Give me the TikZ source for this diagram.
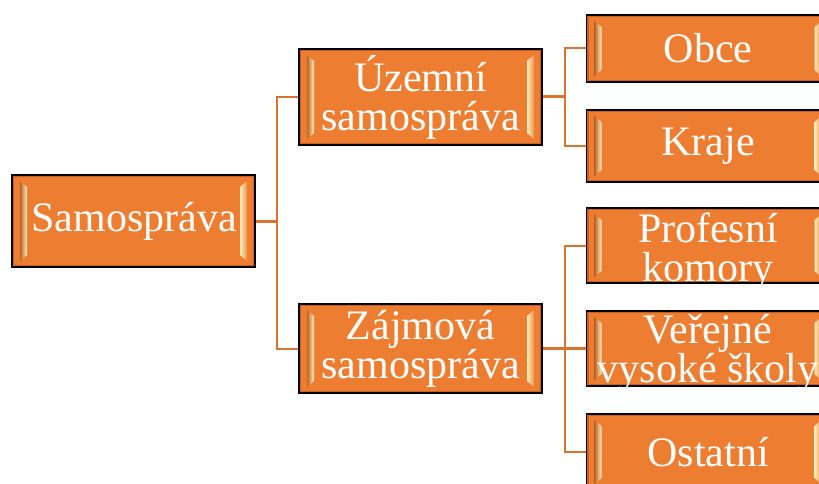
\documentclass[tikz,border=0pt]{standalone}
\usepackage{fontspec}
\setmainfont{Liberation Serif}
\usetikzlibrary{calc,backgrounds}
\definecolor{orng}{RGB}{236,125,49}
\definecolor{bev}{RGB}{255,240,185}
\definecolor{rim}{RGB}{200,95,30}
\definecolor{connc}{RGB}{214,116,48}
\tikzset{
  box/.style={draw=black, line width=1.3pt, fill=orng, minimum width=243pt, inner sep=0pt,
    path picture={
      \draw[rim, line width=1.2pt]
        let \p1=(path picture bounding box.north west), \p2=(path picture bounding box.south east) in
        (\x1+1.5pt,\y1-1.5pt) rectangle (\x2-1.5pt,\y2+1.5pt);
      \shade[left color=orng!80!black, right color=bev]
        let \p1=(path picture bounding box.north west), \p2=(path picture bounding box.south east) in
        (\x1+8pt,\y1-6pt) -- (\x1+15pt,\y1-12pt) -- (\x1+15pt,\y2+12pt) -- (\x1+8pt,\y2+6pt) -- cycle;
      \shade[left color=bev, right color=orng!85!white]
        let \p1=(path picture bounding box.north west), \p2=(path picture bounding box.south east) in
        (\x2-8pt,\y1-6pt) -- (\x2-15pt,\y1-12pt) -- (\x2-15pt,\y2+12pt) -- (\x2-8pt,\y2+6pt) -- cycle;
    }},
  lbl/.style={text=white, font=\fontsize{42}{39}\selectfont, align=center, inner sep=0pt},
  conn/.style={draw=connc, line width=2pt},
  connthick/.style={draw=connc, line width=3pt},
}
\begin{document}
\begin{tikzpicture}[x=1pt,y=-1pt]
\useasboundingbox (0,0) rectangle (819,484);
\clip (0,0) rectangle (819,484);
% boxes
\node[box, minimum height=92pt] (sam) at (133.5,221) {};
\node[box, minimum height=96pt] (uz) at (420.5,97) {};
\node[box, minimum height=89pt] (zaj) at (420.5,348.5) {};
\node[box, minimum height=67pt] (obce) at (708,48.5) {};
\node[box, minimum height=72pt] (kraje) at (708,146) {};
\node[box, minimum height=75pt] (prof) at (708,245.5) {};
\node[box, minimum height=75pt] (ver) at (708,348.5) {};
\node[box, minimum height=76pt] (ost) at (708,452) {};
% texts
\node[lbl] (samt) at (134,221) {Samospráva};
\node[lbl] (uzt) at (420.5,97) {Územní\\samospráva};
\node[lbl] (zajt) at (420.5,349) {Zájmová\\samospráva};
\node[lbl] (obcet) at (708,48.5) {Obce};
\node[lbl] (krajet) at (708,146) {Kraje};
\node[lbl] (proft) at (708,252) {Profesní\\komory};
\node[lbl] (vert) at (708,353) {Veřejné\\vysoké školy};
\node[lbl] (ostt) at (708,452) {Ostatní};
% connectors
\begin{pgfonlayer}{background}
\fill[white] (0,0) rectangle (819,484);
\draw[connthick] (sam.east) -- ++(21,0) coordinate (j0);
\draw[conn] (uz.west) -| (j0) |- (zaj.west);
\draw[connthick] (uz.east) -- ++(22,0) coordinate (j1);
\draw[conn] (obce.west) -| (j1) |- (kraje.west);
\draw[connthick] (zaj.east) -- ++(22,0) coordinate (j2);
\draw[conn] (prof.west) -| (j2) |- (ost.west);
\draw[connthick] (j2) -- (ver.west);
\end{pgfonlayer}
\end{tikzpicture}
\end{document}
